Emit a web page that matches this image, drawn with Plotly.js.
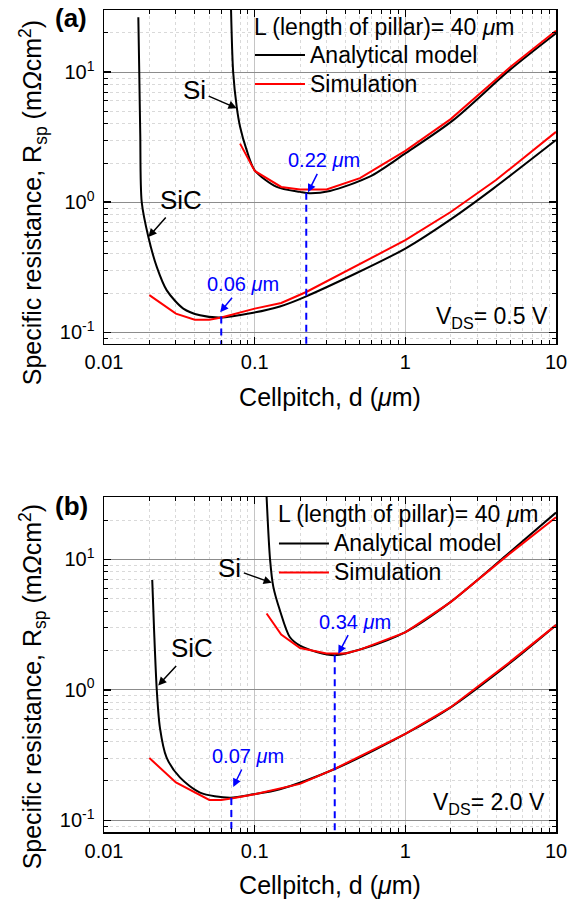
<!DOCTYPE html>
<html><head><meta charset="utf-8">
<script src="https://cdn.plot.ly/plotly-3.0.1.min.js"></script>
<style>html,body{margin:0;padding:0;background:#fff}</style>
</head><body><div id="chart" style="width:582px;height:905px"></div>
<script>
// ---- data (a) VDS = 0.5 V ----
const siA_d = [0.0697, 0.072, 0.076, 0.08, 0.0885, 0.1, 0.14, 0.2, 0.232, 0.316, 0.58, 1, 2.08, 4.94, 10];
const siA_R = [30, 10, 5.4, 3.8, 2.51, 1.76, 1.31, 1.2, 1.17, 1.22, 1.57, 2.37, 4.27, 10.4, 19.9];
const siA_sim_d = [0.08, 0.1, 0.15, 0.2, 0.3, 0.5, 1, 2, 5, 10];
const siA_sim_R = [2.82, 1.74, 1.31, 1.25, 1.25, 1.53, 2.48, 4.35, 11.0, 20.8];
const sicA_d = [0.0169, 0.01714, 0.0174, 0.0178, 0.0197, 0.0224, 0.0261, 0.0336, 0.0434, 0.0589, 0.098, 0.147, 0.22, 1, 2.08, 3.83, 10];
const sicA_R = [26.4, 10, 3.38, 1.0, 0.54, 0.318, 0.21, 0.152, 0.135, 0.13, 0.1415, 0.158, 0.189, 0.44, 0.76, 1.27, 3.0];
const sicA_sim_d = [0.02, 0.03, 0.04, 0.05, 0.06, 0.1, 0.15, 0.22, 1, 2, 4, 10];
const sicA_sim_R = [0.193, 0.139, 0.125, 0.125, 0.13, 0.152, 0.168, 0.204, 0.51, 0.84, 1.48, 3.47];
const optA_d = [0.22, 0.06];
const optA_R = [1.18, 0.132];
// ---- data (b) VDS = 2.0 V ----
const siB_d = [0.12, 0.1265, 0.133, 0.147, 0.171, 0.2, 0.258, 0.34, 0.526, 1, 2, 4.7, 10];
const siB_R = [30, 10, 6.15, 4.07, 2.54, 2.18, 1.95, 1.84, 2.07, 2.77, 4.72, 10.8, 22.8];
const siB_sim_d = [0.12, 0.15, 0.2, 0.3, 0.4, 0.5, 1, 2, 5, 10];
const siB_sim_R = [3.84, 2.65, 2.09, 1.9, 1.9, 2.03, 2.75, 4.7, 11.2, 21];
const sicB_d = [0.0209, 0.0215, 0.0224, 0.0235, 0.026, 0.0319, 0.0434, 0.0685, 0.098, 0.147, 0.34, 1, 2, 5.2, 10];
const sicB_R = [6.93, 2.86, 1.0, 0.513, 0.303, 0.213, 0.163, 0.149, 0.158, 0.173, 0.247, 0.459, 0.734, 1.68, 3.13];
const sicB_sim_d = [0.02, 0.03, 0.05, 0.06, 0.07, 0.1, 0.2, 0.34, 1, 2, 5, 10];
const sicB_sim_R = [0.3, 0.195, 0.143, 0.143, 0.147, 0.158, 0.19, 0.248, 0.46, 0.735, 1.65, 3.13];
const optB_d = [0.34, 0.07];
const optB_R = [1.84, 0.148];
// ---- axis labels ----
const xTickVals = [0.01, 0.1, 1, 10];
const xTickText = ['0.01', '0.1', '1', '10'];
const yTickVals = [0.1, 1, 10];
const yTickText = ['10<sup>-1</sup>', '10<sup>0</sup>', '10<sup>1</sup>'];
const yMin = 0.0813, yMax = 30;

const BLACK = '#000000', RED = '#ff0000', BLUE = '#0000ff';
const F = 'Arial, "Liberation Sans", sans-serif';

function curve(x, y, color, xa, ya, name, legend, show, smooth) {
  return {x, y, xaxis: xa, yaxis: ya, type: 'scatter', mode: 'lines', name: name || '',
    legend: legend, showlegend: !!show,
    line: smooth ? {color, width: 2, shape: 'spline', smoothing: 0.8} : {color, width: 2},
    hoverinfo: 'skip'};
}
function dashes(dv, rv, xa, ya) {
  return dv.map((d, i) => ({x: [d, d], y: [rv[i], yMin], xaxis: xa, yaxis: ya, type: 'scatter', mode: 'lines',
    showlegend: false, line: {color: BLUE, width: 2, dash: '7px,5px'}, hoverinfo: 'skip'}));
}
const big = s => '<span style="font-size:23px">' + s + '</span>';

const data = [
  curve(siA_d, siA_R, BLACK, 'x', 'y', big('Analytical model'), 'legend', true, true),
  curve(siA_sim_d, siA_sim_R, RED, 'x', 'y', big('Simulation'), 'legend', true, false),
  curve(sicA_d, sicA_R, BLACK, 'x', 'y', '', 'legend', false, true),
  curve(sicA_sim_d, sicA_sim_R, RED, 'x', 'y', '', 'legend', false, false),
  ...dashes(optA_d, optA_R, 'x', 'y'),
  curve(siB_d, siB_R, BLACK, 'x2', 'y2', big('Analytical model'), 'legend2', true, true),
  curve(siB_sim_d, siB_sim_R, RED, 'x2', 'y2', big('Simulation'), 'legend2', true, false),
  curve(sicB_d, sicB_R, BLACK, 'x2', 'y2', '', 'legend2', false, true),
  curve(sicB_sim_d, sicB_sim_R, RED, 'x2', 'y2', '', 'legend2', false, false),
  ...dashes(optB_d, optB_R, 'x2', 'y2')
];

const minorStyle = {dtick: 'D1', ticks: 'inside', ticklen: 4, tickwidth: 1, tickcolor: BLACK,
  showgrid: true, gridcolor: '#d9d9d9', griddash: 'dot', gridwidth: 1};

function xAxis(anchor) {
  return {type: 'log', range: [-2, 1], anchor, domain: [0, 1],
    tickmode: 'array', tickvals: xTickVals, ticktext: xTickText,
    ticks: 'inside', ticklen: 7, tickwidth: 1.5, tickcolor: BLACK,
    showline: true, linecolor: BLACK, linewidth: 1.5, mirror: 'ticks',
    showgrid: true, gridcolor: '#c4c4c4', gridwidth: 1, zeroline: false,
    tickfont: {family: F, size: 20, color: BLACK}, ticklabelstandoff: 0,
    minor: minorStyle,
    title: {text: 'Cellpitch, d (<i>μ</i>m)', font: {family: F, size: 25, color: BLACK}, standoff: 16},
    automargin: false};
}
function yAxis(anchor, domain) {
  return {type: 'log', range: [Math.log10(yMin), Math.log10(yMax)], anchor, domain,
    tickmode: 'array', tickvals: yTickVals, ticktext: yTickText,
    ticks: 'inside', ticklen: 7, tickwidth: 1.5, tickcolor: BLACK,
    showline: true, linecolor: BLACK, linewidth: 1.5, mirror: 'ticks',
    showgrid: true, gridcolor: '#8c8c8c', gridwidth: 1, zeroline: false,
    tickfont: {family: F, size: 20, color: BLACK}, ticklabelstandoff: 4,
    minor: minorStyle,
    automargin: false};
}

function txt(xr, yr, lx, ly, text, color, size, xanchor) {
  return {xref: xr, yref: yr, x: lx, y: ly, text, showarrow: false, xanchor: xanchor || 'center', yanchor: 'middle',
    font: {family: F, size, color}};
}
// label with an arrow pointing at a curve point (d, R); ax/ay = offset of the label from the tip in px
function pointer(xr, yr, d, R, ax, ay, text, color, size) {
  return {xref: xr, yref: yr, x: Math.log10(d), y: Math.log10(R), text, showarrow: true, ax, ay,
    xanchor: 'center', yanchor: 'middle', font: {family: F, size, color}, borderpad: 2,
    arrowhead: 2, arrowsize: 1.1, arrowwidth: 1.5, arrowcolor: color, standoff: 0, startstandoff: 0};
}
const ytitle = 'Specific resistance, R<sub>sp</sub> (m<i>Ω</i>cm<sup>2</sup>)';
const legTitle = 'L (length of pillar)= 40 <i>μ</i>m';
function paperTxt(x, y, text, size, angle, xanchor) {
  return {xref: 'paper', yref: 'paper', x, y, text, showarrow: false, xanchor: xanchor || 'center', yanchor: 'middle',
    textangle: angle || 0, font: {family: F, size, color: BLACK}};
}

const annotations = [
  // (a)
  paperTxt(-0.073, 0.99, '<b>(a)</b>', 26),
  paperTxt(-0.157, 0.765, ytitle, 25, -90),
  paperTxt(0.3274, 0.9793, legTitle, 23, 0, 'left'),
  pointer('x', 'y', 0.076, 5.28, -42, -18, 'Si', BLACK, 26),
  pointer('x', 'y', 0.0197, 0.54, 33, -37, 'SiC', BLACK, 26),
  pointer('x', 'y', 0.226, 1.19, 16, -32, '0.22 <i>μ</i>m', BLUE, 20),
  pointer('x', 'y', 0.059, 0.1425, 23, -28, '0.06 <i>μ</i>m', BLUE, 20),
  txt('x', 'y', 0.96, -0.885, 'V<sub>DS</sub>= 0.5 V', BLACK, 23, 'right'),
  // (b)
  paperTxt(-0.071, 0.396, '<b>(b)</b>', 26),
  paperTxt(-0.157, 0.176, ytitle, 25, -90),
  paperTxt(0.3805, 0.3869, legTitle, 23, 0, 'left'),
  pointer('x2', 'y2', 0.13, 6.6, -42, -15, 'Si', BLACK, 26),
  pointer('x2', 'y2', 0.0229, 1.08, 34, -37, 'SiC', BLACK, 26),
  pointer('x2', 'y2', 0.359, 1.89, 17, -32, '0.34 <i>μ</i>m', BLUE, 20),
  pointer('x2', 'y2', 0.0721, 0.18, 15, -31, '0.07 <i>μ</i>m', BLUE, 20),
  txt('x2', 'y2', 0.94, -0.875, 'V<sub>DS</sub>= 2.0 V', BLACK, 23, 'right')
];

function leg(x, y) {
  return {x, y, xanchor: 'left', yanchor: 'top', bgcolor: 'rgba(0,0,0,0)', borderwidth: 0,
    font: {family: F, size: 20, color: BLACK}, itemwidth: 50, tracegroupgap: 0};
}

const layout = {
  width: 582, height: 905,
  margin: {l: 104, r: 26, t: 10, b: 73},
  paper_bgcolor: '#ffffff', plot_bgcolor: '#ffffff',
  showlegend: true,
  font: {family: F, color: BLACK},
  xaxis: xAxis('y'), yaxis: yAxis('x', [0.5937, 1]),
  xaxis2: xAxis('y2'), yaxis2: yAxis('x2', [0, 0.4075]),
  legend: leg(0.323, 0.969),
  legend2: leg(0.376, 0.3747),
  annotations
};

Plotly.newPlot('chart', data, layout, {staticPlot: true, displayModeBar: false});
</script></body></html>
